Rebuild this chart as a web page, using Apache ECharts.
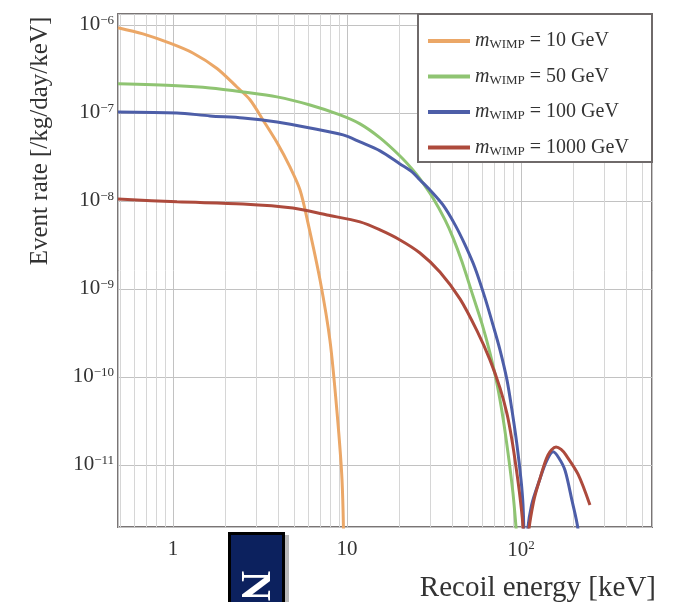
<!DOCTYPE html>
<html><head><meta charset="utf-8">
<script src="https://cdn.jsdelivr.net/npm/echarts@6/dist/echarts.min.js"></script>
<style>html,body{margin:0;padding:0;background:#fff}#c{width:681px;height:602px}</style>
</head><body><div id="c"></div>
<script>
// ---- data ----
const seriesNames = ['m_WIMP = 10 GeV', 'm_WIMP = 50 GeV', 'm_WIMP = 100 GeV', 'm_WIMP = 1000 GeV'];
const massLabels = ['10', '50', '100', '1000'];

const e10 = [0.483, 0.672, 0.96, 1.30, 1.79, 2.33, 2.77, 3.29, 3.96, 4.70, 5.37, 5.97, 7.0, 7.98, 8.77, 9.36, 9.6];
const r10 = [9.3e-7, 7.9e-7, 6.2e-7, 4.8e-7, 3.2e-7, 1.97e-7, 1.41e-7, 8.3e-8, 4.6e-8, 2.43e-8, 1.33e-8, 5.6e-9, 1.26e-9, 2.6e-10, 3.9e-11, 6.8e-12, 1e-12];

const e50 = [0.483, 1.054, 1.632, 2.525, 3.961, 6.13, 9.12, 11.88, 15.48, 20.17, 23.64, 26.27, 31.2, 36.6, 40.7, 45.8, 53.0, 59.7, 66.3, 72.8, 78.8, 84.2, 89.9, 93.6, 96.1];
const r50 = [2.14e-7, 2.03e-7, 1.92e-7, 1.73e-7, 1.52e-7, 1.23e-7, 9.49e-8, 7.5e-8, 5.2e-8, 3.24e-8, 2.31e-8, 1.78e-8, 1.08e-8, 6.08e-9, 3.8e-9, 2.03e-9, 8.3e-10, 4.0e-10, 1.87e-10, 8.3e-11, 3.42e-11, 1.37e-11, 4.8e-12, 1.97e-12, 1e-12];

const e100 = [0.483, 1.054, 1.632, 2.525, 3.961, 6.13, 9.49, 11.88, 15.48, 20.17, 23.64, 26.27, 30.0, 35.6, 41.8, 47.7, 54.4, 62.1, 69.0, 75.7, 83.1, 88.7, 94.8, 100, 102.7, 104.0, 106, 108.5, 115, 128, 140, 153, 165, 179, 196, 213, 225];
const r100 = [1.027e-7, 1.0e-7, 9.24e-8, 8.77e-8, 7.9e-8, 6.75e-8, 5.62e-8, 4.68e-8, 3.7e-8, 2.63e-8, 2.14e-8, 1.73e-8, 1.33e-8, 9.0e-9, 5.34e-9, 3.16e-9, 1.73e-9, 7.9e-10, 3.9e-10, 2.03e-10, 9.2e-11, 4.2e-11, 1.69e-11, 6.8e-12, 3.5e-12, 1.5e-12, 3e-14, 1.5e-12, 3.5e-12, 6.8e-12, 1.1e-11, 1.41e-11, 1.2e-11, 8.7e-12, 4e-12, 1.8e-12, 3e-13];

const e1000 = [0.483, 1.054, 2.525, 4.89, 7.67, 11.88, 15.48, 20.17, 26.27, 34.2, 44.6, 55.9, 66.3, 75.7, 83.1, 88.7, 93.6, 98.7, 102.7, 106, 110, 118, 128, 143, 159, 170, 181, 213, 249];
const r1000 = [1.05e-8, 9.75e-9, 9.24e-9, 8.32e-9, 6.93e-9, 5.77e-9, 4.68e-9, 3.6e-9, 2.56e-9, 1.56e-9, 7.7e-10, 3.33e-10, 1.56e-10, 7.5e-11, 3.8e-11, 1.92e-11, 9.5e-12, 4.3e-12, 1.9e-12, 3e-14, 1.5e-12, 3.8e-12, 6.8e-12, 1.3e-11, 1.6e-11, 1.5e-11, 1.3e-11, 7.8e-12, 3.5e-12];

const xMin = 0.483, xMax = 566;
const yMin = 1.97e-12, yMax = 1.33e-6;
const xMinorLines = [0.5, 0.6, 0.7, 0.8, 0.9, 2, 3, 4, 5, 6, 7, 8, 9, 20, 30, 40, 50, 60, 70, 80, 90, 200, 300, 400, 500];
const yMinorLines = [2e-12, 3e-12, 4e-12, 5e-12, 6e-12, 7e-12, 8e-12, 9e-12,
  2e-11, 3e-11, 4e-11, 5e-11, 6e-11, 7e-11, 8e-11, 9e-11,
  2e-10, 3e-10, 4e-10, 5e-10, 6e-10, 7e-10, 8e-10, 9e-10,
  2e-9, 3e-9, 4e-9, 5e-9, 6e-9, 7e-9, 8e-9, 9e-9,
  2e-8, 3e-8, 4e-8, 5e-8, 6e-8, 7e-8, 8e-8, 9e-8,
  2e-7, 3e-7, 4e-7, 5e-7, 6e-7, 7e-7, 8e-7, 9e-7];

const colors = ['#eba767', '#8fc472', '#4d5ea8', '#ad4a3c'];

// ---- chart ----
const zip = (a, b) => a.map((v, i) => [v, b[i]]);
const curves = [zip(e10, r10), zip(e50, r50), zip(e100, r100), zip(e1000, r1000)];
const serif = 'Liberation Serif';

const chart = echarts.init(document.getElementById('c'), null, {renderer: 'canvas'});

const mkSeries = curves.map((d, i) => ({
  name: seriesNames[i],
  type: 'line',
  data: d,
  showSymbol: false,
  symbol: 'none',
  smooth: 0.3,
  z: 5,
  clip: true,
  lineStyle: {color: colors[i], width: 3},
  itemStyle: {color: colors[i]}
}));

const gridSeries = {
  name: 'grid',
  type: 'line',
  data: [],
  z: 1,
  silent: true,
  markLine: {
    silent: true,
    symbol: 'none',
    label: {show: false},
    animation: false,
    lineStyle: {type: 'solid', color: '#d6d6d6', width: 1},
    data: xMinorLines.map(v => ({xAxis: v}))
      .concat(yMinorLines.map(v => ({yAxis: v, lineStyle: {color: '#ebebeb', type: 'solid', width: 1}})))
  }
};

const supRich = {
  b: {fontFamily: serif, fontSize: 21, color: '#333'},
  s: {fontFamily: serif, fontSize: 13, color: '#333', verticalAlign: 'top', padding: [0, 0, 9, 0]}
};

const option = {
  animation: false,
  backgroundColor: '#fff',
  color: colors,
  grid: {left: 118, right: 29, top: 14, bottom: 75, show: true, borderColor: '#7a7575', borderWidth: 2, backgroundColor: '#fff'},
  xAxis: {
    type: 'log', logBase: 10, min: xMin, max: xMax,
    axisLine: {show: false},
    axisTick: {show: false},
    splitLine: {show: true, lineStyle: {color: '#c2c2c2', width: 1}},
    axisLabel: {
      showMinLabel: false, showMaxLabel: false, margin: 12,
      formatter: v => {
        const p = Math.round(Math.log10(v));
        if (p === 0) return '{b|1}';
        if (p === 1) return '{b|10}';
        return '{b|10}{s|' + p + '}';
      },
      rich: supRich
    }
  },
  yAxis: {
    type: 'log', logBase: 10, min: yMin, max: yMax,
    axisLine: {show: false},
    axisTick: {show: false},
    splitLine: {show: true, lineStyle: {color: '#c2c2c2', width: 1}},
    axisLabel: {
      showMinLabel: false, showMaxLabel: false, margin: 4,
      formatter: v => {
        const p = Math.round(Math.log10(v));
        return '{b|10}{s|\u2212' + Math.abs(p) + '}';
      },
      rich: supRich
    }
  },
  legend: {
    data: seriesNames,
    orient: 'vertical',
    left: 428, top: 31,
    z: 20,
    padding: 0,
    itemGap: 15,
    itemWidth: 42, itemHeight: 4,
    icon: 'rect',
    textStyle: {
      fontFamily: serif, fontSize: 20, color: '#333',
      rich: {
        m: {fontFamily: serif, fontSize: 20, fontStyle: 'italic', color: '#333', lineHeight: 21},
        sub: {fontFamily: serif, fontSize: 13, color: '#333', verticalAlign: 'bottom', padding: [8, 0, 0, 0]},
        t: {fontFamily: serif, fontSize: 20, color: '#333', lineHeight: 21}
      }
    },
    formatter: name => {
      const i = seriesNames.indexOf(name);
      return '{m|m}{sub|WIMP}{t| = ' + massLabels[i] + ' GeV}';
    }
  },
  graphic: [
    {type: 'rect', z: 10, shape: {x: 418, y: 14, width: 234, height: 148}, style: {fill: '#fff', stroke: '#6f6a6a', lineWidth: 2}},
    {type: 'text', x: 40, y: 141, rotation: Math.PI / 2, style: {text: 'Event rate [/kg/day/keV]', font: '25px "Liberation Serif"', fill: '#333', align: 'center', verticalAlign: 'middle'}},
    {type: 'text', x: 656, y: 588, style: {text: 'Recoil energy [keV]', font: '29px "Liberation Serif"', fill: '#333', align: 'right', verticalAlign: 'middle'}},
    {type: 'rect', shape: {x: 284, y: 535, width: 5, height: 67}, style: {fill: '#b9b9b9'}},
    {type: 'rect', shape: {x: 229.5, y: 533.5, width: 54, height: 70}, style: {fill: '#0c215e', stroke: '#000', lineWidth: 3}},
    {type: 'text', x: 253, y: 586, rotation: -Math.PI / 2, style: {text: 'N', font: 'bold 42px "Liberation Serif"', fill: '#fff', align: 'center', verticalAlign: 'middle'}}
  ],
  series: [gridSeries].concat(mkSeries)
};
chart.setOption(option);
</script>
</body></html>
